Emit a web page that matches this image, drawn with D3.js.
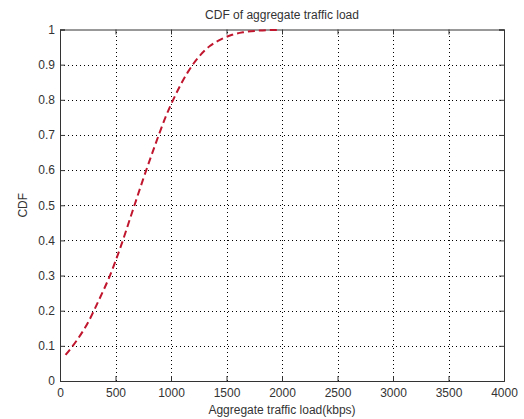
<!DOCTYPE html>
<html>
<head>
<meta charset="utf-8">
<script src="https://cdn.jsdelivr.net/npm/d3@7"></script>
<style>
  body { margin: 0; background: #fff; }
  text { font-family: "Liberation Sans", Arial, sans-serif; fill: #333; }
</style>
</head>
<body>
<div id="chart"></div>
<script>
const loadKbps = [50, 150, 250, 350, 450, 550, 650, 750, 850, 950, 1050, 1150, 1250, 1350, 1450, 1550, 1650, 1800, 1980]
const cdfValues = [0.074, 0.115, 0.165, 0.23, 0.30, 0.385, 0.48, 0.575, 0.665, 0.75, 0.82, 0.878, 0.922, 0.953, 0.972, 0.985, 0.992, 0.997, 0.999]
const xTicks = [0, 500, 1000, 1500, 2000, 2500, 3000, 3500, 4000]
const yTicks = [0, 0.1, 0.2, 0.3, 0.4, 0.5, 0.6, 0.7, 0.8, 0.9, 1]

const w = 524
const h = 419
const margin = { top: 29.5, right: 20, bottom: 38, left: 60 }

const svg = d3.select('#chart').append('svg').attr('width', w).attr('height', h)

const x = d3.scaleLinear().domain([0, 4000]).range([margin.left, w - margin.right])
const y = d3.scaleLinear().domain([0, 1]).range([h - margin.bottom, margin.top])

// Grid
svg.append('g').selectAll('line')
    .data(xTicks.slice(1, -1)).enter()
    .append('line')
    .attr('x1', d => Math.round(x(d)) + 0.5).attr('x2', d => Math.round(x(d)) + 0.5)
    .attr('y1', y(0)).attr('y2', y(1))
    .attr('stroke', '#000').attr('stroke-dasharray', '1,3')

svg.append('g').selectAll('line')
    .data(yTicks.slice(1, -1)).enter()
    .append('line')
    .attr('y1', d => Math.round(y(d)) + 0.5).attr('y2', d => Math.round(y(d)) + 0.5)
    .attr('x1', x(0)).attr('x2', x(4000))
    .attr('stroke', '#000').attr('stroke-dasharray', '1,3')

// Axes (MATLAB style: inward ticks on all sides)
const xAxis = d3.axisBottom(x).tickValues(xTicks).tickSize(-5).tickPadding(7).tickFormat(d3.format('d'))
const yAxis = d3.axisLeft(y).tickValues(yTicks).tickSize(-5).tickPadding(5).tickFormat(d => d)

svg.append('g').attr('transform', `translate(0,${y(0)})`).call(xAxis)
svg.append('g').attr('transform', `translate(${x(0)},0)`).call(yAxis)
svg.append('g').attr('transform', `translate(0,${y(1)})`)
    .call(d3.axisTop(x).tickValues(xTicks).tickSize(-5).tickFormat(''))
svg.append('g').attr('transform', `translate(${x(4000)},0)`)
    .call(d3.axisRight(y).tickValues(yTicks).tickSize(-5).tickFormat(''))

svg.selectAll('.domain').attr('stroke', '#333')
svg.selectAll('.tick line').attr('stroke', '#333')
svg.selectAll('.tick text').attr('font-size', '12px').style('font-family', '"Liberation Sans", Arial, sans-serif').attr('fill', '#333')

// Curve
const line = d3.line()
    .x((d, i) => x(loadKbps[i]))
    .y(d => y(d))
    .curve(d3.curveMonotoneX)

svg.append('path')
    .datum(cdfValues)
    .attr('d', line)
    .attr('fill', 'none')
    .attr('stroke', '#c0162e')
    .attr('stroke-width', 2)
    .attr('stroke-dasharray', '7,4')

// Labels
svg.append('text')
    .attr('x', (x(0) + x(4000)) / 2).attr('y', 19)
    .attr('text-anchor', 'middle').attr('font-size', '12px')
    .text('CDF of aggregate traffic load')

svg.append('text')
    .attr('x', (x(0) + x(4000)) / 2).attr('y', 414)
    .attr('text-anchor', 'middle').attr('font-size', '12px')
    .text('Aggregate traffic load(kbps)')

svg.append('text')
    .attr('transform', `translate(27,${(y(0) + y(1)) / 2}) rotate(-90)`)
    .attr('text-anchor', 'middle').attr('font-size', '12px')
    .text('CDF')
</script>
</body>
</html>
